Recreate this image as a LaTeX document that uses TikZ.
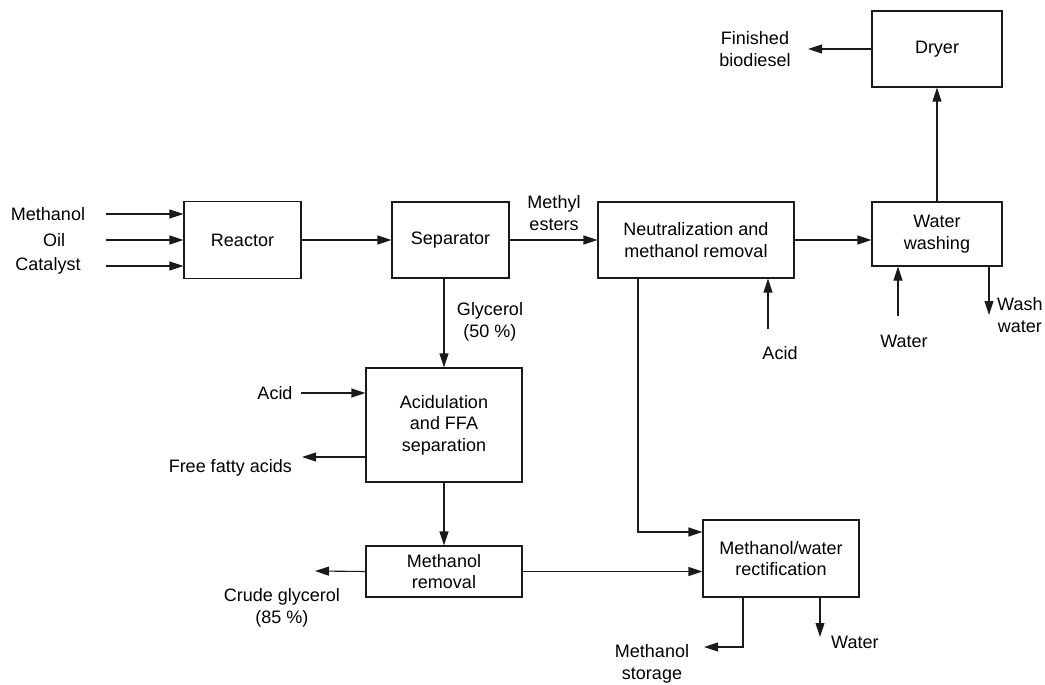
\documentclass[tikz,border=0pt]{standalone}
\usepackage{fontspec}
\setmainfont{Liberation Sans}
\usepackage{tikz}
\usetikzlibrary{calc,arrows.meta,positioning}
\definecolor{linec}{HTML}{1A1A1A}
\tikzset{
  ar/.style={-{Triangle[length=14pt,width=9pt]},line width=1.1pt,linec},
  box/.style={draw=linec,line width=1.1pt,align=center,inner sep=0pt,font=\fontsize{18}{21.5}\selectfont},
  lbl/.style={align=center,inner sep=0pt,font=\fontsize{18}{21.5}\selectfont}
}
\begin{document}
\begin{tikzpicture}[x=1pt,y=-1pt]
\useasboundingbox (0,0) rectangle (1045,685);
% process units
\node[box,minimum width=117pt,minimum height=77pt] (reactor) at (242.5,240) {Reactor};
\node[box,minimum width=117pt,minimum height=76pt] (separator) at (450.5,240) {Separator};
\node[box,minimum width=196pt,minimum height=76pt] (neutral) at (696,240) {Neutralization and\\methanol removal};
\node[box,minimum width=130pt,minimum height=64pt] (wash) at (937,234) {Water\\washing};
\node[box,minimum width=130pt,minimum height=76pt] (dryer) at (937,49) {Dryer};
\node[box,minimum width=156pt,minimum height=114pt] (acidul) at (444,425) {Acidulation\\and FFA\\separation};
\node[box,minimum width=156pt,minimum height=51pt] (meohrem) at (444,571.5) {Methanol\\removal};
\node[box,minimum width=156pt,minimum height=77pt] (rectif) at (781,558.5) {Methanol/water\\rectification};
% stream labels
\node[lbl] (lmeoh) at (48,214) {Methanol};
\node[lbl] (loil) at (54,240) {Oil};
\node[lbl] (lcat) at (48,266) {Catalyst};
\node[lbl] (lester) at (554,213) {Methyl\\esters};
\node[lbl] (lglyc) at (490,322) {Glycerol\\(50 \%)};
\node[lbl] (lacidn) at (780,353) {Acid};
\node[lbl] (lwater) at (904,341) {Water};
\node[lbl,anchor=west] (lwash) at (997,315) {Wash\\water};
\node[lbl] (lfin) at (755,49) {Finished\\biodiesel};
\node[lbl] (lacida) at (275,393) {Acid};
\node[lbl,anchor=east] (lffa) at (292,468) {Free fatty acids};
\node[lbl] (lcrude) at (282,608) {Crude glycerol\\(85 \%)};
\node[lbl] (lstore) at (652,664) {Methanol\\storage};
\node[lbl,anchor=west] (lwout) at (831,642) {Water};
% free ends of streams
\coordinate (in1) at (106,214);
\coordinate (in2) at (106,240);
\coordinate (in3) at (106,266);
\coordinate (fin) at (808,49);
\coordinate (acid1) at (301,393);
\coordinate (ffa) at (302,457);
\coordinate (crude) at (315,571);
\coordinate (tap) at (638,532);
\coordinate (acid2) at (768,329);
\coordinate (win) at (898,316);
\coordinate (wwout) at (989,315);
\coordinate (msc) at (743,647);
\coordinate (ms) at (704,647);
\coordinate (wout) at (820,637);
% streams
\draw[ar] (in1) -- (in1 -| reactor.west);
\draw[ar] (in2) -- (in2 -| reactor.west);
\draw[ar] (in3) -- (in3 -| reactor.west);
\draw[ar] (reactor) -- (separator);
\draw[ar] (separator) -- (neutral);
\draw[ar] (neutral.east) -- (neutral.east -| wash.west);
\draw[ar] (wash.north) -- (dryer.south);
\draw[ar] (dryer.west) -- (fin);
\draw[ar] (acid2) -- (acid2 |- neutral.south);
\draw[ar] (win) -- (win |- wash.south);
\draw[ar] (wwout |- wash.south) -- (wwout);
\draw[ar] (separator.south -| acidul.north) -- (acidul.north);
\draw[ar] (acid1) -- (acid1 -| acidul.west);
\draw[ar] (ffa -| acidul.west) -- (ffa);
\draw[ar] (acidul.south) -- (meohrem.north);
\draw[ar] (meohrem.west) -- (crude);
\draw[ar] (meohrem.east) -- (meohrem.east -| rectif.west);
\draw[ar] (tap |- neutral.south) -- (tap) -- (tap -| rectif.west);
\draw[ar] (msc |- rectif.south) -- (msc) -- (ms);
\draw[ar] (wout |- rectif.south) -- (wout);
\end{tikzpicture}
\end{document}
